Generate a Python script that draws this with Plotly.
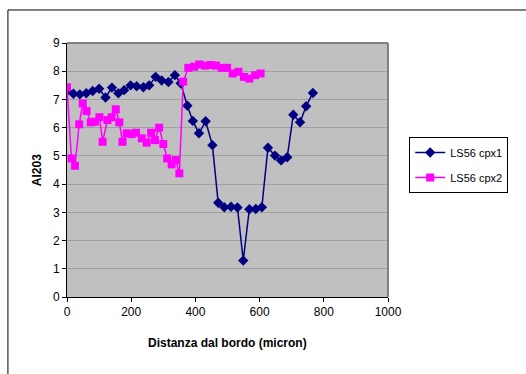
import plotly.graph_objects as go

# LS56 cpx1 (navy diamonds)
cpx1_x = [0, 20, 40, 60, 80, 100, 120, 140, 160, 178, 198, 217, 238, 256, 276, 295,
          316, 336, 354, 375, 392, 411, 432, 453, 471, 490, 511, 531, 549, 568, 588,
          607, 626, 648, 667, 686, 705, 726, 745, 766]
cpx1_y = [7.3, 7.2, 7.18, 7.22, 7.3, 7.38, 7.07, 7.42, 7.22, 7.33, 7.5, 7.47, 7.43, 7.5,
          7.8, 7.67, 7.62, 7.86, 7.57, 6.78, 6.24, 5.8, 6.23, 5.38, 3.34, 3.18, 3.2,
          3.17, 1.29, 3.11, 3.12, 3.18, 5.29, 5.01, 4.84, 4.95, 6.46, 6.19, 6.76, 7.23]

# LS56 cpx2 (magenta squares)
cpx2_x = [0, 14, 25, 38, 49, 61, 74, 87, 101, 111, 126, 139, 152, 163, 173, 186, 201,
          215, 233, 248, 262, 274, 287, 300, 312, 326, 339, 350, 362, 378, 396, 412,
          430, 448, 464, 482, 499, 516, 534, 551, 568, 586, 603]
cpx2_y = [7.43, 4.91, 4.65, 6.12, 6.86, 6.59, 6.19, 6.21, 6.37, 5.5, 6.27, 6.37, 6.65,
          6.19, 5.5, 5.8, 5.77, 5.82, 5.62, 5.47, 5.82, 5.56, 6.0, 5.42, 4.91, 4.7, 4.85,
          4.38, 7.63, 8.12, 8.16, 8.24, 8.2, 8.22, 8.2, 8.12, 8.12, 7.92, 7.98, 7.8,
          7.74, 7.86, 7.92]

x_ticks = [0, 200, 400, 600, 800, 1000]
y_ticks = [0, 1, 2, 3, 4, 5, 6, 7, 8, 9]

FONT = "Liberation Sans, Arial, sans-serif"

fig = go.Figure()
fig.add_trace(go.Scatter(
    x=cpx1_x, y=cpx1_y, mode="lines+markers", name="LS56 cpx1",
    legendgroup="a",
    line=dict(color="#000080", width=1.5),
    marker=dict(symbol="diamond", size=8, color="#000080"),
))
fig.add_trace(go.Scatter(
    x=cpx2_x, y=cpx2_y, mode="lines+markers", name="LS56 cpx2",
    legendgroup="b",
    line=dict(color="#FF00FF", width=1.5),
    marker=dict(symbol="square", size=8, color="#FF00FF"),
))

fig.update_layout(
    width=526, height=374,
    margin=dict(l=67, r=138, t=43, b=77),
    paper_bgcolor="white",
    plot_bgcolor="#C0C0C0",
    font=dict(family=FONT, size=12, color="#000000"),
    showlegend=True,
    legend=dict(
        x=1.066, y=0.63, xanchor="left", yanchor="top",
        bgcolor="white", bordercolor="#000000", borderwidth=1,
        font=dict(family=FONT, size=11, color="#000000"),
        tracegroupgap=6,
    ),
    xaxis=dict(
        range=[0, 1000], tickvals=x_ticks, ticktext=[str(v) for v in x_ticks],
        showgrid=False, zeroline=False,
        showline=True, linecolor="#000000", linewidth=1,
        ticks="outside", ticklen=4, tickcolor="#000000",
        tickfont=dict(family=FONT, size=12),
        mirror=False,
    ),
    yaxis=dict(
        range=[0, 9], tickvals=y_ticks, ticktext=[str(v) for v in y_ticks],
        showgrid=True, gridcolor="#A0A0A0", gridwidth=1, zeroline=False,
        showline=True, linecolor="#000000", linewidth=1,
        ticks="outside", ticklen=4, tickcolor="#000000",
        tickfont=dict(family=FONT, size=12),
    ),
    annotations=[
        dict(text="<b>Al203</b>", x=-0.093, y=0.5, xref="paper", yref="paper",
             showarrow=False, textangle=-90, font=dict(family=FONT, size=12),
             xanchor="center", yanchor="middle"),
        dict(text="<b>Distanza dal bordo (micron)</b>", x=0.5, y=-0.181,
             xref="paper", yref="paper", showarrow=False,
             font=dict(family=FONT, size=12), xanchor="center", yanchor="middle"),
    ],
    shapes=[
        # plot area border (top/right)
        dict(type="line", xref="paper", yref="paper", x0=0, x1=1, y0=1, y1=1,
             line=dict(color="#808080", width=2)),
        dict(type="line", xref="paper", yref="paper", x0=1, x1=1, y0=0, y1=1,
             line=dict(color="#808080", width=2)),
        # outer chart frame
        dict(type="rect", xref="paper", yref="paper", x0=-0.184, x1=1.6,
             y0=-0.6, y1=1.13, line=dict(color="#000000", width=1),
             layer="below"),
    ],
)

fig.write_html("out.html")
